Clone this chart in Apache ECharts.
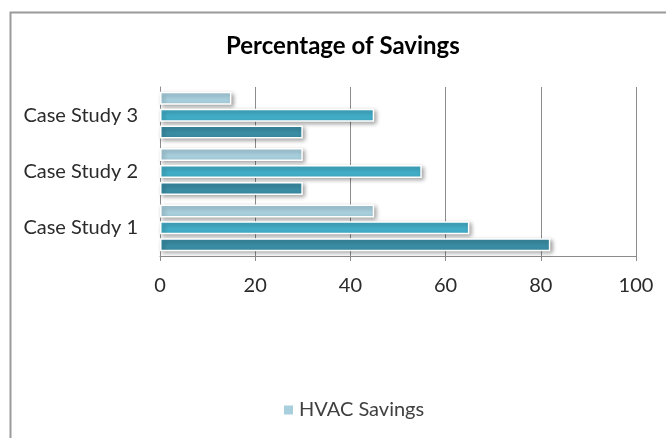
<!DOCTYPE html>
<html>
<head>
<meta charset="utf-8">
<style>
  html, body { margin: 0; padding: 0; background: #fff; }
  #chart { width: 666px; height: 438px; }
</style>
<script src="https://cdn.jsdelivr.net/npm/echarts@6/dist/echarts.min.js"></script>
</head>
<body>
<div id="chart"></div>
<script>
// Savings per case study, in percent
const categories = ['Case Study 1', 'Case Study 2', 'Case Study 3'];
const hvacSavings = [45, 30, 15];
const lightingSavings = [65, 55, 45];
const totalSavings = [82, 30, 30];
const xTicks = [0, 20, 40, 60, 80, 100];

const FONT = 'Lato, "Open Sans", sans-serif';

const barStyle = (color) => ({
  color: color,
  borderColor: '#ffffff',
  borderWidth: 1.5,
  shadowColor: 'rgba(0,0,0,0.35)',
  shadowBlur: 4,
  shadowOffsetX: 2,
  shadowOffsetY: 2
});

const chart = echarts.init(document.getElementById('chart'));
chart.setOption({
  animation: false,
  backgroundColor: '#ffffff',
  graphic: [{
    type: 'rect',
    left: 8, top: 10,
    shape: { width: 720, height: 500 },
    style: { fill: 'none', stroke: '#9a9a9a', lineWidth: 2 },
    silent: true
  }],
  title: {
    text: 'Percentage of Savings',
    left: 221,
    top: 29,
    textStyle: { fontFamily: FONT, fontSize: 24, fontWeight: 'bold', color: '#000' }
  },
  legend: {
    data: ['HVAC Savings'],
    left: 277,
    top: 395,
    itemWidth: 11,
    itemHeight: 11,
    itemGap: 4,
    icon: 'rect',
    textStyle: { fontFamily: FONT, fontSize: 20, color: '#404040' }
  },
  grid: { left: 160, right: 30, top: 87, bottom: 182, containLabel: false },
  xAxis: {
    type: 'value',
    min: xTicks[0],
    max: xTicks[xTicks.length - 1],
    interval: xTicks[1] - xTicks[0],
    axisLine: { show: true, lineStyle: { color: '#8c8c8c', width: 1 } },
    axisTick: { show: true, length: 5, lineStyle: { color: '#8c8c8c' } },
    splitLine: { show: true, lineStyle: { color: '#8c8c8c', width: 1 } },
    axisLabel: { margin: 20, fontFamily: FONT, fontSize: 20, color: '#2b2b2b' }
  },
  yAxis: {
    type: 'category',
    data: categories,
    axisLine: { show: true, lineStyle: { color: '#8c8c8c', width: 1 } },
    axisTick: { show: false },
    axisLabel: { margin: 22, fontFamily: FONT, fontSize: 20, color: '#2b2b2b' }
  },
  series: [
    { name: 'HVAC Savings', type: 'bar', data: hvacSavings, barWidth: 13, barGap: '30%', itemStyle: barStyle('#a8cfdd') },
    { name: 'Lighting Savings', type: 'bar', data: lightingSavings, barWidth: 13, barGap: '30%', itemStyle: barStyle('#42adc7') },
    { name: 'Total Savings', type: 'bar', data: totalSavings, barWidth: 13, barGap: '30%', itemStyle: barStyle('#3a8da4') }
  ]
});
</script>
</body>
</html>
